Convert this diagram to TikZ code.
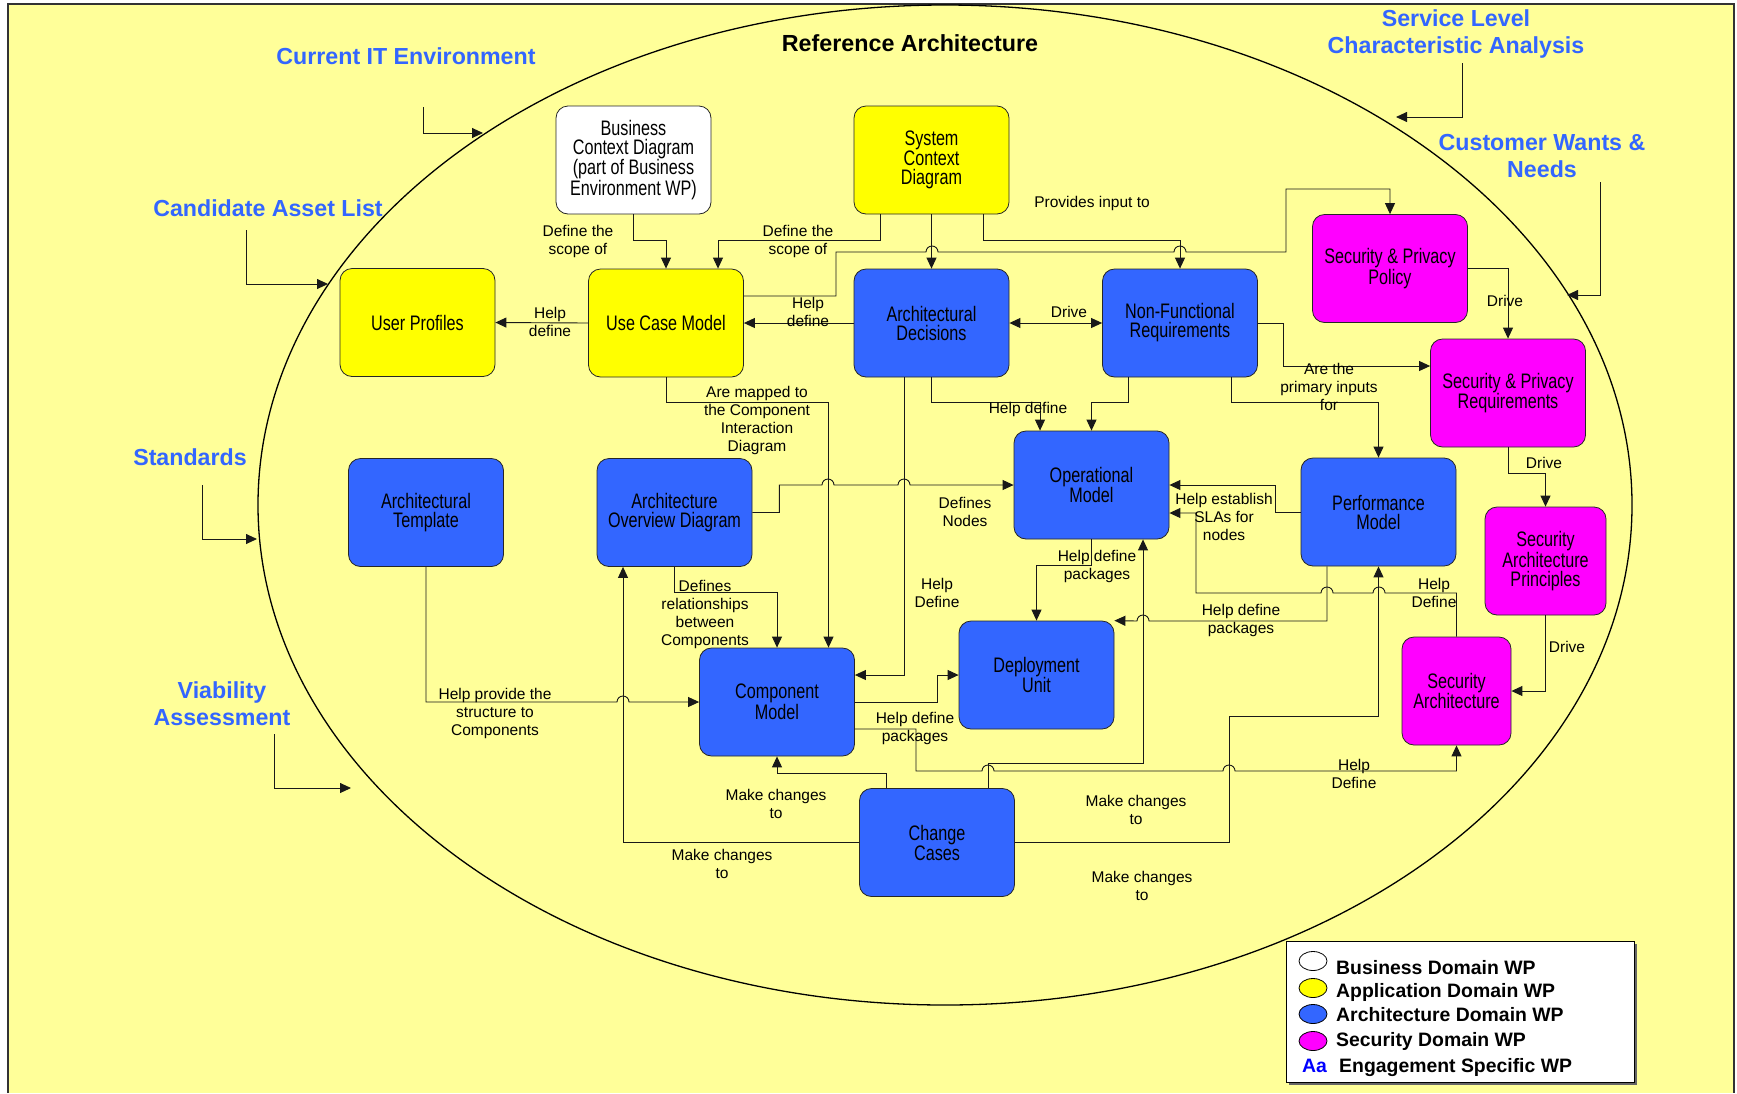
\documentclass[tikz,border=0pt]{standalone}
\usepackage{fontspec}
\setmainfont{Liberation Sans}
\newfontfamily\boxfont[FakeStretch=0.77]{Liberation Sans}
\usetikzlibrary{arrows.meta,shapes.geometric}
\definecolor{bgyellow}{HTML}{FFFF99}
\definecolor{appyellow}{HTML}{FFFF00}
\definecolor{archblue}{HTML}{3366FF}
\definecolor{secmagenta}{HTML}{FF00FF}
\definecolor{headblue}{HTML}{3366FF}
\definecolor{aablue}{HTML}{0000FF}

\begin{document}
\begin{tikzpicture}[x=1pt,y=-1pt,
    box/.style={draw=black!85, line width=0.8pt, rounded corners=12pt, minimum width=155pt, minimum height=108pt, inner sep=1pt, align=center, font={\boxfont\fontsize{21}{19}\selectfont}},
    lbl/.style={align=center, inner sep=0pt, font={\fontsize{15.5}{18}\selectfont}},
    head/.style={align=center, inner sep=0pt, text=headblue, font={\bfseries\fontsize{23.2}{27}\selectfont}},
    arr/.style={draw=black!90, line width=0.9pt, -{Triangle[length=11pt,width=10pt]}},
    arrboth/.style={draw=black!90, line width=0.9pt, {Triangle[length=11pt,width=10pt]}-{Triangle[length=11pt,width=10pt]}},
    leg/.style={ellipse, draw=black, line width=0.8pt, minimum width=28pt, minimum height=19pt, inner sep=0pt},
    legtxt/.style={anchor=base west, inner sep=0pt, font={\bfseries\fontsize{19.4}{21}\selectfont}}]

    % Fondo
    \useasboundingbox (0,0) rectangle (1737,1093);
    \fill[bgyellow] (8,4) rectangle (1734,1093);
    \draw[line width=1.2pt, black!80] (8,1093) -- (8,4) -- (1734,4) -- (1734,1093);

    % Elipse de la arquitectura
    \draw[line width=1.3pt] (945,505) ellipse [x radius=687pt, y radius=500pt];
    \node[inner sep=0pt, font={\bfseries\fontsize{23.3}{26}\selectfont}] (refarch) at (910,43) {Reference Architecture};

    % Entradas externas
    \node[head] (cit) at (406,56) {Current IT Environment};
    \node[head] (cal) at (268,208) {Candidate Asset List};
    \node[head] (std) at (190,457) {Standards};
    \node[head] (via) at (222,704) {Viability\\Assessment};
    \node[head] (slc) at (1456,34) {Service Level\\Characteristic Analysis};
    \node[head] (cwn) at (1542,156) {Customer Wants \&\\Needs};
    \coordinate (cit-a) at (423,107);  \coordinate (cit-b) at (483,133);
    \coordinate (cal-a) at (246,230);  \coordinate (cal-b) at (328,284);
    \coordinate (std-a) at (202,485);  \coordinate (std-b) at (257,539);
    \coordinate (via-a) at (274,734);  \coordinate (via-b) at (351,788);
    \coordinate (slc-a) at (1462,63);  \coordinate (slc-b) at (1396,117);
    \coordinate (cwn-a) at (1600,182); \coordinate (cwn-b) at (1567,295);
    \draw[arr] (cit-a) |- (cit-b);
    \draw[arr] (cal-a) |- (cal-b);
    \draw[arr] (std-a) |- (std-b);
    \draw[arr] (via-a) |- (via-b);
    \draw[arr] (slc-a) |- (slc-b);
    \draw[arr] (cwn-a) |- (cwn-b);

    % Cajas
    \node[box, fill=white] (bcd) at (633.5,160) {Business\\Context Diagram\\(part of Business\\Environment WP)};
    \node[box, fill=appyellow] (scd) at (931.5,160) {System\\Context\\Diagram};
    \node[box, fill=appyellow] (up) at (417.5,322.5) {User Profiles};
    \node[box, fill=appyellow] (ucm) at (666,323) {Use Case Model};
    \node[box, fill=archblue] (ad) at (931.5,323) {Architectural\\Decisions};
    \node[box, fill=archblue] (nfr) at (1180,323) {Non-Functional\\Requirements};
    \node[box, fill=secmagenta] (spp) at (1390,268.5) {Security \& Privacy\\Policy};
    \node[box, fill=secmagenta] (spr) at (1508,393) {Security \& Privacy\\Requirements};
    \node[box, fill=archblue] (om) at (1091.5,485) {Operational\\Model};
    \node[box, fill=archblue] (pm) at (1378.5,512) {Performance\\Model};
    \node[box, fill=secmagenta, minimum width=121pt] (sap) at (1545.5,561) {Security\\Architecture\\Principles};
    \node[box, fill=secmagenta, minimum width=109pt] (sa) at (1456.5,691) {Security\\Architecture};
    \node[box, fill=archblue] (du) at (1036.5,675) {Deployment\\Unit};
    \node[box, fill=archblue] (cm) at (777,702) {Component\\Model};
    \node[box, fill=archblue] (at) at (426,512.5) {Architectural\\Template};
    \node[box, fill=archblue] (aod) at (674.5,512.5) {Architecture\\Overview Diagram};
    \node[box, fill=archblue] (cc) at (937,842.5) {Change\\Cases};

    % Conectores de la parte superior
    \draw[arr] (bcd.south) -- ++(0,26) -| (ucm.north);
    \draw[arr] ([xshift=-51.5pt]scd.south) -- ++(0,26) -| ([xshift=52pt]ucm.north);
    \draw[arr] (scd.south) -- (ad.north);
    \draw[arr] ([xshift=51.5pt]scd.south) -- ++(0,26) -| (nfr.north);
    \draw[arr] ([yshift=27pt]ucm.east) -| (836,252) -- (926,252) arc[start angle=180,end angle=0,radius=6pt]
        -- (1174,252) arc[start angle=180,end angle=0,radius=6pt] -- (1286,252) |- (1390,189) -- (spp.north);
    \draw[arr] (ucm.west) -- (up.east);
    \draw[arr] (ad.west) -- (ucm.east);
    \draw[arrboth] (ad.east) -- (nfr.west);
    \draw[arr] (nfr.east) -- ++(26,0) |- ([yshift=27pt]spr.west);
    \draw[arr] (spp.east) -| (spr.north);
    \draw[arr] (spr.south) -- ++(0,26) -| (sap.north);
    \draw[arr] (sap.south) |- (sa.east);

    % Conectores del centro
    \draw[arr] (ucm.south) -- ++(0,25) -| ([xshift=51.5pt]cm.north);
    \draw[arr] (ad.south) -- ++(0,25) -| ([xshift=-51.5pt]om.north);
    \draw[arr] ([xshift=-51.5pt]nfr.south) -- ++(0,25) -| (om.north);
    \draw[arr] ([xshift=51.5pt]nfr.south) -- ++(0,25) -| (pm.north);
    \draw[arr] ([xshift=-27.5pt]ad.south) |- ([yshift=27pt]cm.east);
    \draw[arr] (pm.west) -- ++(-25,0) |- (om.east);
    \draw[arr] (sa.north) |- (1385,593) arc[start angle=0,end angle=180,radius=6pt]
        -- (1333,593) arc[start angle=0,end angle=180,radius=6pt] -- (1196,593) |- ([yshift=-28pt]om.east);
    \draw[arr] ([xshift=-51.5pt]pm.south) |- (1149,621) arc[start angle=0,end angle=180,radius=6pt] -- (du.north east);
    \draw[arr] (om.south) -- ++(0,26) -| (du.north);
    \draw[arr] (aod.east) -- ++(27,0) |- (822,485) arc[start angle=180,end angle=0,radius=6pt]
        -- (898,485) arc[start angle=180,end angle=0,radius=6pt] -- (om.west);
    \draw[arr] (aod.south) -- ++(0,26) -| (cm.north);
    \draw[arr] (at.south) |- (617,702) arc[start angle=180,end angle=0,radius=6pt] -- (cm.west);
    \draw[arr] (cm.east) -- ++(83,0) |- (du.west);
    \draw[arr] ([yshift=-27pt]cm.east) -| (916,771) -- (982,771) arc[start angle=180,end angle=0,radius=6pt]
        -- (1223,771) arc[start angle=180,end angle=0,radius=6pt] -| (sa.south);

    % Conectores de Change Cases
    \draw[arr] (cc.west) -| ([xshift=-51.5pt]aod.south);
    \draw[arr] ([xshift=-51pt]cc.north) -- ++(0,-15) -| (cm.south);
    \draw[arr] ([xshift=51pt]cc.north) -- ++(0,-25) -| ([xshift=51.5pt]om.south);
    \draw[arr] (cc.east) -| (1229,716) -| (pm.south);

    % Etiquetas
    \node[lbl] (t-scope1) at (578,241) {Define the\\scope of};
    \node[lbl] (t-scope2) at (798,241) {Define the\\scope of};
    \node[lbl] (t-input) at (1092,203) {Provides input to};
    \node[lbl] (t-up) at (550,322) {Help\\define};
    \node[lbl] (t-ucm) at (808,312) {Help\\define};
    \node[lbl] (t-drive1) at (1069,312) {Drive};
    \node[lbl] (t-mapped) at (757,420) {Are mapped to\\the Component\\Interaction\\Diagram};
    \node[lbl] (t-omdef) at (1028,409) {Help define};
    \node[lbl] (t-primary) at (1329,387) {Are the\\primary inputs\\for};
    \node[lbl] (t-drive2) at (1505,301) {Drive};
    \node[lbl] (t-drive3) at (1544,463) {Drive};
    \node[lbl] (t-drive4) at (1567,647) {Drive};
    \node[lbl] (t-sla) at (1224,517) {Help establish\\SLAs for\\nodes};
    \node[lbl] (t-sadef1) at (1434,593) {Help\\Define};
    \node[lbl] (t-pkg1) at (1241,620) {Help define\\packages};
    \node[lbl] (t-pkg2) at (1097,566) {Help define\\packages};
    \node[lbl] (t-nodes) at (965,512) {Defines\\Nodes};
    \node[lbl] (t-cmdef) at (937,593) {Help\\Define};
    \node[lbl] (t-rel) at (705,614) {Defines\\relationships\\between\\Components};
    \node[lbl] (t-struct) at (495,713) {Help provide the\\structure to\\Components};
    \node[lbl] (t-pkg3) at (915,728) {Help define\\packages};
    \node[lbl] (t-sadef2) at (1354,774) {Help\\Define};
    \node[lbl] (t-chg1) at (776,804) {Make changes\\to};
    \node[lbl] (t-chg2) at (722,864) {Make changes\\to};
    \node[lbl] (t-chg3) at (1136,810) {Make changes\\to};
    \node[lbl] (t-chg4) at (1142,886) {Make changes\\to};

    % Leyenda
    \fill[black!60] (1289,944) rectangle (1637,1085);
    \draw[fill=white, line width=0.8pt] (1286,941) rectangle (1634,1082);
    \node[leg, fill=white] (lg-bus) at (1313,961) {};
    \node[leg, fill=appyellow] (lg-app) at (1313,988) {};
    \node[leg, fill=archblue] (lg-arch) at (1313,1014) {};
    \node[leg, fill=secmagenta] (lg-sec) at (1313,1041) {};
    \node[legtxt] (lt-bus) at (1336,974) {Business Domain WP};
    \node[legtxt] (lt-app) at (1336,997) {Application Domain WP};
    \node[legtxt] (lt-arch) at (1336,1021) {Architecture Domain WP};
    \node[legtxt] (lt-sec) at (1336,1046) {Security Domain WP};
    \node[legtxt, text=aablue] (lg-aa) at (1302,1072) {Aa};
    \node[legtxt] (lt-eng) at (1339,1072) {Engagement Specific WP};
\end{tikzpicture}
\end{document}
